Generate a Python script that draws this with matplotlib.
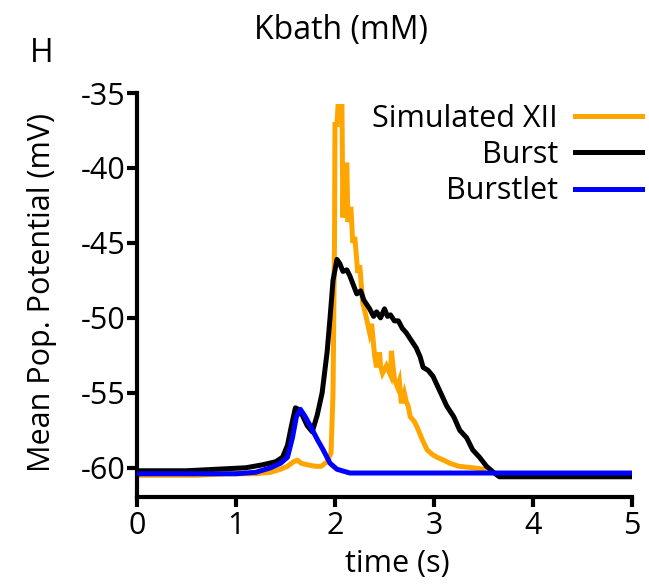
import matplotlib
matplotlib.use("Agg")
import matplotlib.pyplot as plt

plt.rcParams['font.family'] = ['Open Sans', 'DejaVu Sans']

# Simulated XII (orange)
xii_t = [0.0, 0.3, 0.6, 0.9, 1.2, 1.35, 1.45, 1.52, 1.58, 1.62, 1.66, 1.72, 1.8, 1.86, 1.92, 1.96,
         1.98, 1.995, 2.0, 2.02, 2.03, 2.07, 2.08, 2.09, 2.12, 2.13, 2.16, 2.18, 2.2, 2.23, 2.25,
         2.28, 2.31, 2.35, 2.37, 2.4, 2.42, 2.45, 2.46, 2.48, 2.52, 2.56, 2.57, 2.6, 2.63, 2.65,
         2.67, 2.7, 2.72, 2.74, 2.76, 2.8, 2.83, 2.88, 2.93, 2.98, 3.03, 3.1, 3.16, 3.25,
         3.39, 3.5]
xii_v = [-60.5, -60.5, -60.5, -60.4, -60.4, -60.3, -60.1, -59.9, -59.6, -59.5, -59.7, -59.8, -59.9, -59.9, -59.6, -59.0,
         -55.0, -45.0, -37.1, -37.1, -35.9, -35.9, -43.3, -39.8, -39.8, -43.6, -42.6, -45.0, -44.6, -47.0, -46.5,
         -49.0, -49.8, -51.0, -50.4, -52.5, -53.3, -52.3, -53.2, -53.7, -53.2, -53.8, -52.2, -54.1, -54.6, -54.2,
         -55.7, -55.0, -55.6, -55.9, -56.6, -56.9, -57.3, -58.1, -58.8, -59.1, -59.3, -59.5, -59.7, -59.9,
         -60.0, -60.1]

# Burst (black)
burst_t = [0.0, 0.5, 0.8, 1.1, 1.27, 1.4, 1.47, 1.52, 1.56, 1.60, 1.63, 1.67, 1.72, 1.77, 1.82, 1.87,
           1.92, 1.95, 1.98, 2.02, 2.05, 2.08, 2.12, 2.15, 2.22, 2.26, 2.29, 2.35, 2.39, 2.42, 2.46,
           2.5, 2.53, 2.56, 2.6, 2.64, 2.68, 2.72, 2.77, 2.82, 2.86, 2.89, 2.94, 2.99, 3.06, 3.13,
           3.2, 3.26, 3.33, 3.39, 3.46, 3.53, 3.6, 3.66, 3.70, 4.0, 4.5, 5.0]
burst_v = [-60.2, -60.2, -60.1, -60.0, -59.8, -59.6, -59.3, -58.5, -57.2, -56.0, -56.1, -56.5, -57.2, -57.6, -56.5, -55.0,
           -52.3, -50.0, -47.5, -46.1, -46.4, -46.9, -46.8, -47.2, -48.4, -48.2, -48.8, -49.4, -49.9, -49.6, -50.0,
           -49.4, -49.9, -49.8, -50.2, -50.2, -50.7, -51.0, -51.5, -52.0, -52.6, -53.3, -53.5, -53.9, -54.9, -55.9,
           -56.6, -57.5, -58.0, -58.8, -59.3, -59.9, -60.3, -60.6, -60.6, -60.6, -60.6, -60.6]

# Burstlet (blue)
burstlet_t = [0.0, 0.5, 1.0, 1.2, 1.35, 1.45, 1.52, 1.57, 1.61, 1.65, 1.70, 1.75, 1.82, 1.88,
              1.95, 2.02, 2.15, 3.0, 4.0, 5.0]
burstlet_v = [-60.4, -60.4, -60.4, -60.3, -60.0, -59.7, -59.3, -58.0, -56.6, -56.1, -56.6, -57.2, -58.1, -58.8,
              -59.7, -60.1, -60.35, -60.35, -60.35, -60.35]

x_ticks = [0, 1, 2, 3, 4, 5]
y_ticks = [-60, -55, -50, -45, -40, -35]

W, H = 649, 587
fig = plt.figure(figsize=(W / 100, H / 100), dpi=100)
ax = fig.add_axes([137 / W, (H - 497) / H, (632 - 137) / W, (497 - 93) / H])

ax.plot(xii_t, xii_v, color='#FFA500', lw=3.6, label='Simulated XII', zorder=2, solid_joinstyle='miter')
ax.plot(burst_t, burst_v, color='black', lw=3.6, label='Burst', zorder=3)
ax.plot(burstlet_t, burstlet_v, color='#0000FF', lw=3.6, label='Burstlet', zorder=4)

ax.set_xlim(0, 5)
ax.set_ylim(-61.95, -35)
ax.set_xticks(x_ticks)
ax.set_yticks(y_ticks)
ax.set_xticklabels([str(v) for v in x_ticks])
ax.set_yticklabels([str(v) for v in y_ticks])
for s in ['top', 'right']:
    ax.spines[s].set_visible(False)
for s in ['left', 'bottom']:
    ax.spines[s].set_linewidth(3.0)
    ax.spines[s].set_capstyle('projecting')
ax.tick_params(direction='out', length=7, width=3.0, labelsize=22)
ax.tick_params(axis='x', pad=3)
ax.tick_params(axis='y', pad=1)

ax.set_xlabel('time (s)', fontsize=22, va='center')
ax.xaxis.set_label_coords((397 - 137) / 495, (497 - 564) / 404)
ax.set_ylabel('Mean Pop. Potential (mV)', fontsize=22, va='center')
ax.yaxis.set_label_coords((42 - 137) / 495, (497 - 293) / 404)

leg = ax.legend(loc='upper right', bbox_to_anchor=((642 - 137) / 495, (497 - 104) / 404), frameon=False,
                markerfirst=False, fontsize=22, handlelength=2.2, handletextpad=0.55,
                labelspacing=0.2, borderaxespad=0, borderpad=0)

fig.text(341 / W, 1 - 30 / H, 'Kbath (mM)', fontsize=23, ha='center', va='center')
fig.text(42 / W, 1 - 53 / H, 'H', fontsize=23, ha='center', va='center')

fig.savefig('out.png', dpi=100)
